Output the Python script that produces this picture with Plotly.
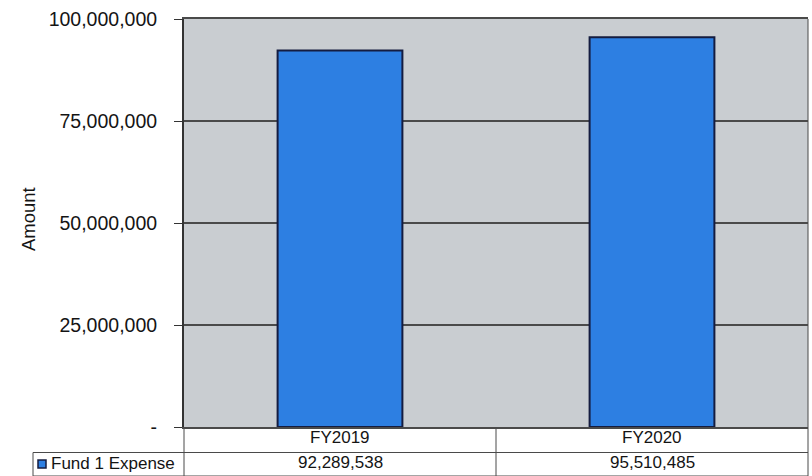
import plotly.graph_objects as go

categories = ["FY2019", "FY2020"]
series_name = "Fund 1 Expense"
values = [92289538, 95510485]
y_tickvals = [0, 25000000, 50000000, 75000000, 100000000]
y_ticktext = ["-", "25,000,000", "50,000,000", "75,000,000", "100,000,000"]
y_title = "Amount"

W, H = 812, 476
ML, MR, MT, MB = 184, 4, 19, 49
PW, PH = W - ML - MR, H - MT - MB

def px(x):
    return (x - ML) / PW

def py(y):
    return (H - MB - y) / PH

BAR = "#2d7fe2"
EDGE = "#141c40"
LINE = "#4a4a4a"
FONT = "Liberation Sans, Arial, sans-serif"
TXT = "#141414"

fig = go.Figure()
fig.add_trace(go.Bar(
    x=categories, y=values, name=series_name, width=0.4,
    marker=dict(color=BAR, line=dict(color=EDGE, width=2)),
    showlegend=False,
))

shapes = []
line = dict(color=LINE, width=1)
# table horizontal lines
shapes.append(dict(type="line", xref="paper", yref="paper", x0=px(33), x1=px(808), y0=py(452.5), y1=py(452.5), line=line))
shapes.append(dict(type="line", xref="paper", yref="paper", x0=px(33), x1=px(808), y0=py(476), y1=py(476), line=line))
# table vertical lines
for xv, top in [(33, 452.5), (184, 427), (496, 427), (808, 427)]:
    shapes.append(dict(type="line", xref="paper", yref="paper", x0=px(xv), x1=px(xv), y0=py(top), y1=py(476), line=line))
# legend key
shapes.append(dict(type="rect", xref="paper", yref="paper", x0=px(38), x1=px(46), y0=py(460), y1=py(468),
                   fillcolor=BAR, line=dict(color=EDGE, width=1.5)))

annotations = []
annotations.append(dict(text=y_title, xref="paper", yref="paper", x=px(28), y=py(219), textangle=-90,
                        showarrow=False, font=dict(family=FONT, size=18.5, color=TXT),
                        xanchor="center", yanchor="middle"))
annotations.append(dict(text=series_name, xref="paper", yref="paper", x=px(49), y=py(463.5),
                        showarrow=False, font=dict(family=FONT, size=17, color=TXT),
                        xanchor="left", yanchor="middle"))
for c, v in zip(categories, values):
    annotations.append(dict(text=c, xref="x", yref="paper", x=c, y=py(438), showarrow=False,
                            font=dict(family=FONT, size=17, color=TXT), xanchor="center", yanchor="middle"))
    annotations.append(dict(text=f"{v:,}", xref="x", yref="paper", x=c, y=py(463), showarrow=False,
                            font=dict(family=FONT, size=17, color=TXT), xanchor="center", yanchor="middle"))

fig.update_layout(
    width=W, height=H,
    margin=dict(l=ML, r=MR, t=MT, b=MB),
    paper_bgcolor="white",
    plot_bgcolor="#c9cdd1",
    shapes=shapes,
    annotations=annotations,
    xaxis=dict(showticklabels=False, ticks="", showgrid=False, zeroline=False,
               showline=True, linecolor=LINE, linewidth=1.5, mirror=True),
    yaxis=dict(range=[0, 100000000], tickvals=y_tickvals, ticktext=y_ticktext,
               ticks="outside", ticklen=8, tickcolor="#333333",
               showgrid=True, gridcolor=LINE, gridwidth=1.5, zeroline=False,
               showline=True, linecolor="#333333", linewidth=2, mirror=False,
               ticklabelstandoff=13,
               tickfont=dict(family=FONT, size=19.5, color=TXT)),
)
fig.add_shape(type="line", xref="paper", yref="paper", x0=1, x1=1, y0=0, y1=1, line=line)

fig.write_html("out.html")
